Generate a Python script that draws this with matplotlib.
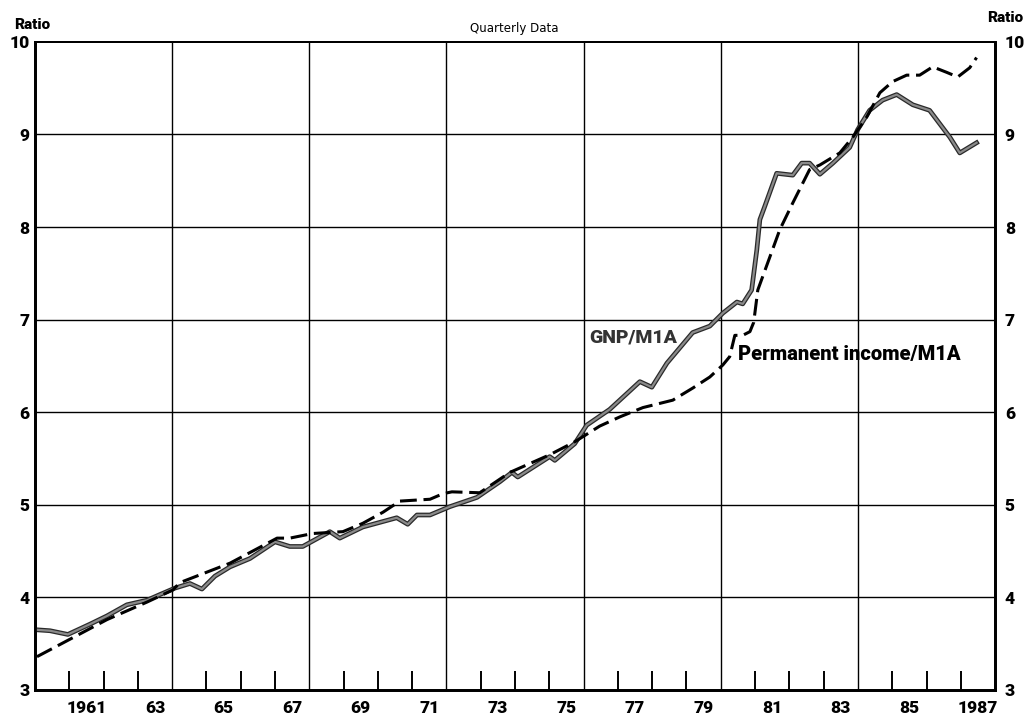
import matplotlib.pyplot as plt
import matplotlib.patheffects as pe

# GNP/M1A (quarterly)
gnp_years = [1960.06, 1960.44, 1960.96, 1961.60, 1962.10, 1962.68, 1963.27, 1963.64,
             1964.08, 1964.52, 1964.87, 1965.25, 1965.69, 1966.27, 1967.00, 1967.43,
             1967.81, 1968.60, 1968.89, 1969.56, 1970.55, 1970.87, 1971.14, 1971.52,
             1972.10, 1972.89, 1973.56, 1973.91, 1974.08, 1975.01, 1975.16, 1975.74,
             1976.09, 1976.76, 1977.64, 1977.99, 1978.43, 1979.18, 1979.68, 1980.06,
             1980.47, 1980.64, 1980.90, 1981.05, 1981.14, 1981.28, 1981.63, 1982.10,
             1982.36, 1982.59, 1982.89, 1983.27, 1983.76, 1983.99, 1984.34, 1984.72,
             1985.13, 1985.60, 1986.09, 1986.68, 1986.97, 1987.46]
gnp_ratio = [3.65, 3.64, 3.60, 3.71, 3.80, 3.92, 3.97, 4.03,
             4.10, 4.15, 4.09, 4.23, 4.33, 4.42, 4.60, 4.55,
             4.55, 4.71, 4.64, 4.76, 4.86, 4.79, 4.89, 4.89,
             4.98, 5.08, 5.25, 5.35, 5.30, 5.52, 5.48, 5.66,
             5.86, 6.03, 6.33, 6.27, 6.53, 6.86, 6.93, 7.07,
             7.19, 7.17, 7.32, 7.75, 8.08, 8.22, 8.58, 8.56,
             8.69, 8.69, 8.57, 8.69, 8.86, 9.05, 9.26, 9.37,
             9.43, 9.32, 9.26, 8.97, 8.80, 8.91]

# Permanent income/M1A
perm_years = [1960.06, 1962.10, 1963.27, 1964.02, 1964.23, 1965.69, 1967.06, 1967.43,
              1968.10, 1968.98, 1969.56, 1970.15, 1970.64, 1971.52, 1971.90, 1972.16,
              1972.97, 1973.85, 1975.01, 1975.74, 1976.47, 1977.06, 1977.73, 1978.60,
              1979.18, 1979.68, 1980.06, 1980.26, 1980.41, 1980.64, 1980.85, 1980.96,
              1981.08, 1981.72, 1982.10, 1982.59, 1982.89, 1983.47, 1983.85, 1984.26,
              1984.64, 1985.01, 1985.42, 1985.80, 1986.18, 1986.59, 1986.91, 1987.26,
              1987.46]
perm_ratio = [3.36, 3.76, 3.95, 4.08, 4.16, 4.37, 4.64, 4.64,
              4.69, 4.71, 4.80, 4.92, 5.04, 5.06, 5.12, 5.14,
              5.13, 5.35, 5.54, 5.68, 5.85, 5.95, 6.05, 6.13,
              6.26, 6.38, 6.51, 6.60, 6.83, 6.83, 6.87, 6.97,
              7.32, 7.97, 8.26, 8.62, 8.67, 8.80, 8.97, 9.19,
              9.45, 9.57, 9.64, 9.64, 9.73, 9.67, 9.62, 9.72,
              9.83]

year_labels = ['1961', '63', '65', '67', '69', '71', '73', '75', '77', '79',
               '81', '83', '85', '1987']
label_years = [1961, 1963, 1965, 1967, 1969, 1971, 1973, 1975, 1977, 1979,
               1981, 1983, 1985, 1987]
ratio_ticks = [3, 4, 5, 6, 7, 8, 9, 10]

bold_font = ['Roboto', 'DejaVu Sans']
wt = 'black'

fig = plt.figure(figsize=(10.28, 7.21), dpi=100)
ax = fig.add_axes([0.034, 0.043, 0.934, 0.899])
ax.set_xlim(1960, 1988)
ax.set_ylim(3, 10)

# grid
for yr in range(1964, 1988, 4):
    ax.axvline(yr, color='black', lw=1.0, zorder=1)
for r in ratio_ticks[1:-1]:
    ax.axhline(r, color='black', lw=1.0, zorder=1)

# lines
ax.plot(gnp_years, gnp_ratio, color='#8a8a8a', lw=1.6, zorder=3,
        path_effects=[pe.Stroke(linewidth=3.4, foreground='#2a2a2a'), pe.Normal()])
ax.plot(perm_years, perm_ratio, color='black', lw=2.2, dashes=(5.5, 2.2), zorder=4)

ax.text(1976.15, 6.81, 'GNP/M1A', fontsize=14, fontweight=wt, family=bold_font,
        color='#333333', va='center', ha='left')
ax.text(1980.5, 6.62, 'Permanent income/M1A', fontsize=14.5, fontweight=wt,
        family=bold_font, va='center', ha='left')

# x ticks: small inward marks each year, labels centred on the year
tick_years = [y for y in range(1961, 1988) if (y - 1960) % 4 != 0]
ax.set_xticks(tick_years)
ax.set_xticklabels([])
ax.tick_params(axis='x', which='major', direction='in', length=14, width=1.4)
ax.set_xticks([y + 0.5 for y in label_years], minor=True)
ax.set_xticklabels(year_labels, minor=True, fontsize=12.5, fontweight=wt,
                   family=bold_font)
ax.tick_params(axis='x', which='minor', length=0, pad=7)

ax.set_yticks(ratio_ticks)
ax.set_yticklabels([str(r) for r in ratio_ticks], fontsize=12.5, fontweight=wt,
                   family=bold_font)
ax.tick_params(axis='y', length=0, pad=4)

ax2 = ax.twinx()
ax2.set_ylim(3, 10)
ax2.set_yticks(ratio_ticks)
ax2.set_yticklabels([str(r) for r in ratio_ticks], fontsize=12.5, fontweight=wt,
                    family=bold_font)
ax2.tick_params(axis='y', length=0, pad=7)

for a in (ax, ax2):
    for side in ('left', 'right', 'bottom'):
        a.spines[side].set_linewidth(2.0)
    a.spines['top'].set_linewidth(1.4)

fig.text(0.031, 0.965, 'Ratio', fontsize=11, fontweight=wt, family=bold_font,
         ha='center', va='center')
fig.text(0.978, 0.975, 'Ratio', fontsize=11, fontweight=wt, family=bold_font,
         ha='center', va='center')
fig.text(0.5, 0.961, 'Quarterly Data', fontsize=8.5, ha='center', va='center')

fig.savefig('out.png', dpi=100)
